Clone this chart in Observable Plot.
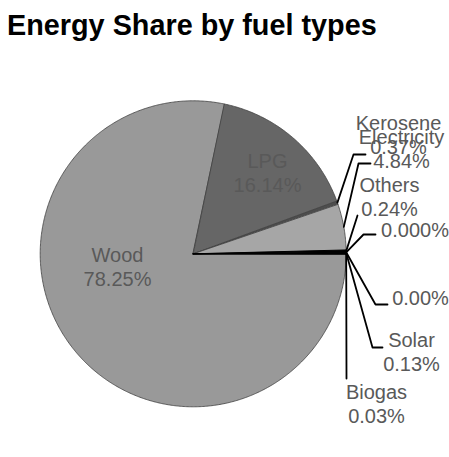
<!DOCTYPE html>
<html><head><meta charset="utf-8">
<script src="https://cdn.jsdelivr.net/npm/d3@7"></script>
<script src="https://cdn.jsdelivr.net/npm/@observablehq/plot@0.6"></script>
<style>
body{margin:0;background:#fff;}
#title{height:50px;box-sizing:border-box;padding:9px 0 0 7px;font:bold 28.8px "Liberation Sans",Arial,sans-serif;color:#000;white-space:nowrap;overflow:hidden;}
#chart svg{display:block;}
</style></head>
<body><div id="title">Energy Share by fuel types</div><div id="chart"></div>
<script>
// ---- data ----
const categories = ["Wood","LPG","Kerosene","Electricity","Others","","","Solar","Biogas"];
const shares = [78.25,16.14,0.37,4.84,0.24,0,0,0.13,0.03];
const shareLabels = ["78.25%","16.14%","0.37%","4.84%","0.24%","0.000%","0.00%","0.13%","0.03%"];
const sliceColors = ["#999999","#666666","#4d4d4d","#a6a6a6","#000000","#000000","#000000","#000000","#000000"];

// ---- layout (pixel offsets from the pie centre, y pointing up) ----
const W = 449, H = 407, cx = 192.7, cy = 203.3, R = 153;
const labelPos = [[-75.7,-12.2],[74.3,81.3],[205.3,119.3],[208.3,105.3],[196.3,57.8],[221.8,24.3],[227.3,-43.7],[218.3,-97.7],[183.3,-149.7]];
const leaderPts = [null,null,[[160.3,99.3],[172.3,99.3]],[[165.3,90.3],[177.3,90.3]],[[164.3,38.3]],[[170.3,19.3],[182.3,19.3]],[[182.3,-50.7],[194.3,-50.7]],[[179.3,-93.7],[189.3,-93.7]],[[153.3,-124.7]]];

const arcs = d3.pie().sort(null).startAngle(Math.PI/2).endAngle(Math.PI/2 + 2*Math.PI)(shares);
const pt = (a, r) => ({x: r*Math.sin(a), y: r*Math.cos(a)});

const sliceMarks = [];
arcs.forEach((a, i) => {
  if (shares[i] <= 0) return;
  const n = Math.max(2, Math.ceil((a.endAngle - a.startAngle) / (Math.PI/360))) + 1;
  const pts = [{x:0, y:0}];
  for (let k = 0; k < n; k++) pts.push(pt(a.startAngle + (a.endAngle - a.startAngle)*k/(n-1), R));
  const dark = sliceColors[i] === "#000000";
  sliceMarks.push(Plot.line(pts, {x:"x", y:"y", curve:"linear-closed", fill:sliceColors[i], stroke: dark ? "#000" : "#404040", strokeWidth: dark ? 1 : 0.8}));
});

const leaderMarks = [];
arcs.forEach((a, i) => {
  if (!leaderPts[i]) return;
  const mid = (a.startAngle + a.endAngle)/2;
  const pts = [pt(mid, R)].concat(leaderPts[i].map(([x, y]) => ({x, y})));
  leaderMarks.push(Plot.line(pts, {x:"x", y:"y", stroke:"#000", strokeWidth:1.8}));
});

const labels = categories.map((c, i) => ({x: labelPos[i][0], y: labelPos[i][1], text: c ? c + "\n" + shareLabels[i] : shareLabels[i]}));

const chart = Plot.plot({
  width: W, height: H, margin: 0, inset: 0,
  style: {fontFamily: '"Liberation Sans", Arial, sans-serif', background: "#fff"},
  x: {domain: [-cx, W - cx], axis: null},
  y: {domain: [cy - H, cy], axis: null},
  marks: [
    ...sliceMarks,
    ...leaderMarks,
    Plot.text(labels, {x:"x", y:"y", text:"text", fontSize:20, fill:"#595959", lineHeight:1.2, textAnchor:"middle", lineAnchor:"middle"})
  ]
});
document.getElementById("chart").appendChild(chart);
</script>
</body></html>
